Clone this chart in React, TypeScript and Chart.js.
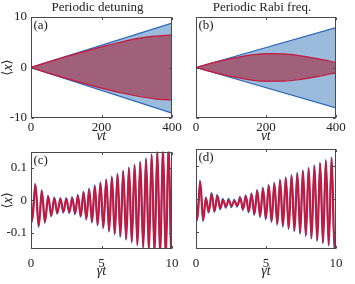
import React, { useEffect, useRef } from 'react';
import { Chart, registerables } from 'chart.js';

Chart.register(...registerables);

// ---------- data ----------
const topT = [0, 50, 100, 150, 200, 250, 300, 350, 400];
const edgeT = [0, 400];
const aBlueUp = [0, 8.8];
const aBlueLow = [0, -9.05];
const aRedUp = [0, 1.1, 2.15, 3.15, 4.1, 4.95, 5.7, 6.2, 6.45];
const aRedLow = [0, -1.1, -2.15, -3.15, -4.1, -4.95, -5.65, -6.2, -6.45];
const bBlueUp = [0, 7.9];
const bBlueLow = [0, -8.0];
const bRedUp = [0, 0.95, 1.75, 2.4, 2.75, 2.7, 2.3, 1.7, 1.0];
const bRedLow = [0, -0.95, -1.75, -2.4, -2.7, -2.7, -2.35, -1.75, -1.05];

const cRedT = [0, 0.09, 0.32, 0.56, 0.78, 1.0, 1.23, 1.45, 1.67, 1.88, 2.1, 2.31, 2.52, 2.73, 2.94, 3.14, 3.34, 3.54, 3.74, 3.94, 4.14, 4.34, 4.54, 4.74, 4.94, 5.14, 5.35, 5.55, 5.75, 5.95, 6.15, 6.35, 6.55, 6.76, 6.96, 7.16, 7.36, 7.56, 7.76, 7.97, 8.17, 8.37, 8.57, 8.77, 8.97, 9.17, 9.37, 9.57, 9.77, 9.97, 10];
const cRedV = [0, -0.062, 0.048, -0.078, 0.028, -0.066, 0.012, -0.046, 0.006, -0.038, 0.004, -0.035, 0.004, -0.036, 0.007, -0.04, 0.014, -0.048, 0.024, -0.056, 0.033, -0.065, 0.043, -0.074, 0.053, -0.083, 0.062, -0.093, 0.071, -0.102, 0.08, -0.11, 0.089, -0.118, 0.099, -0.127, 0.108, -0.136, 0.117, -0.144, 0.127, -0.153, 0.14, -0.162, 0.152, -0.171, 0.163, -0.18, 0.175, -0.19, -0.188];
const cBlueT = [0, 0.07, 0.29, 0.53, 0.75, 0.97, 1.2, 1.42, 1.64, 1.85, 2.07, 2.28, 2.49, 2.7, 2.91, 3.11, 3.31, 3.51, 3.71, 3.91, 4.11, 4.31, 4.51, 4.71, 4.91, 5.11, 5.32, 5.52, 5.72, 5.92, 6.12, 6.32, 6.52, 6.73, 6.93, 7.13, 7.33, 7.53, 7.73, 7.94, 8.14, 8.34, 8.54, 8.74, 8.94, 9.14, 9.34, 9.54, 9.74, 9.94, 10];
const cBlueV = [0, -0.068, 0.052, -0.083, 0.032, -0.07, 0.016, -0.05, 0.01, -0.042, 0.008, -0.039, 0.008, -0.04, 0.011, -0.044, 0.018, -0.052, 0.028, -0.06, 0.037, -0.069, 0.047, -0.078, 0.057, -0.087, 0.066, -0.097, 0.075, -0.106, 0.084, -0.114, 0.093, -0.122, 0.103, -0.131, 0.112, -0.14, 0.121, -0.148, 0.131, -0.157, 0.144, -0.166, 0.156, -0.175, 0.167, -0.184, 0.179, -0.194, -0.19];

const dRedT = [0, 0.1, 0.31, 0.52, 0.72, 0.92, 1.13, 1.33, 1.54, 1.74, 1.94, 2.15, 2.35, 2.55, 2.76, 2.96, 3.17, 3.37, 3.57, 3.78, 3.98, 4.18, 4.39, 4.59, 4.8, 5.0, 5.21, 5.41, 5.61, 5.82, 6.02, 6.22, 6.43, 6.63, 6.84, 7.04, 7.25, 7.45, 7.65, 7.86, 8.06, 8.26, 8.47, 8.67, 8.88, 9.08, 9.29, 9.49, 9.7, 9.9, 10];
const dRedV = [0, -0.061, 0.052, -0.063, 0.002, -0.038, 0.015, -0.036, 0.009, -0.028, -0.003, -0.023, -0.003, -0.021, -0.006, -0.02, 0.003, -0.03, 0.008, -0.037, 0.014, -0.045, 0.024, -0.051, 0.031, -0.058, 0.039, -0.066, 0.046, -0.074, 0.055, -0.08, 0.062, -0.087, 0.069, -0.094, 0.076, -0.101, 0.083, -0.108, 0.091, -0.116, 0.098, -0.123, 0.106, -0.13, 0.114, -0.137, 0.122, -0.148, -0.142];
const dBlueT = [0, 0.08, 0.28, 0.49, 0.69, 0.89, 1.1, 1.3, 1.51, 1.71, 1.91, 2.12, 2.32, 2.52, 2.73, 2.93, 3.14, 3.34, 3.54, 3.75, 3.95, 4.15, 4.36, 4.56, 4.77, 4.97, 5.18, 5.38, 5.58, 5.79, 5.99, 6.19, 6.4, 6.6, 6.81, 7.01, 7.22, 7.42, 7.62, 7.83, 8.03, 8.23, 8.44, 8.64, 8.85, 9.05, 9.26, 9.46, 9.67, 9.87, 10];
const dBlueV = [0, -0.065, 0.056, -0.067, 0.006, -0.042, 0.019, -0.04, 0.013, -0.032, 0.001, -0.027, 0.001, -0.025, -0.002, -0.024, 0.007, -0.034, 0.012, -0.041, 0.018, -0.049, 0.028, -0.055, 0.035, -0.062, 0.043, -0.07, 0.05, -0.078, 0.059, -0.084, 0.066, -0.091, 0.073, -0.098, 0.08, -0.105, 0.087, -0.112, 0.095, -0.12, 0.102, -0.127, 0.11, -0.134, 0.118, -0.141, 0.126, -0.152, -0.146];

const topXTicks = [0, 200, 400];
const topYTicks = [-10, 0, 10];
const botXTicks = [0, 5, 10];
const botYTicks = [-0.1, 0, 0.1];
const titles = ['Periodic detuning', 'Periodic Rabi freq.'];
const letters = ['(a)', '(b)', '(c)', '(d)'];
const xLabel = 'γt';

// ---------- style ----------
const SERIF = '"Liberation Serif", "Times New Roman", "DejaVu Serif", serif';
const BLUE = 'rgb(42,104,182)';
const BLUE_FILL = 'rgb(155,187,221)';
const RED = 'rgb(200,22,60)';
const RED_FILL = 'rgb(160,96,122)';
const FRAME = '#4a4a4a';
const TEXT = '#222';
const TICK = 2.5;

function pts(xs: number[], ys: number[]) {
  return xs.map((x, i) => ({ x, y: ys[i] }));
}

function envelopeSets(bt: number[], bu: number[], bl: number[], rt: number[], ru: number[], rl: number[]) {
  const common = { pointRadius: 0, borderWidth: 1.2 };
  return [
    { ...common, data: pts(bt, bu), borderColor: BLUE, fill: false, order: 2 },
    { ...common, data: pts(bt, bl), borderColor: BLUE, fill: '-1', backgroundColor: BLUE_FILL, order: 2 },
    { ...common, data: pts(rt, ru), borderColor: RED, fill: false, order: 1, cubicInterpolationMode: 'monotone' },
    { ...common, data: pts(rt, rl), borderColor: RED, fill: '-1', backgroundColor: RED_FILL, order: 1, cubicInterpolationMode: 'monotone' },
  ];
}

function waveSets(bt: number[], bv: number[], rt: number[], rv: number[]) {
  const common = { pointRadius: 0, fill: false, cubicInterpolationMode: 'monotone' };
  return [
    { ...common, data: pts(bt, bv), borderColor: BLUE, borderWidth: 1.6, order: 2 },
    { ...common, data: pts(rt, rv), borderColor: RED, borderWidth: 2.0, order: 1 },
  ];
}

type Spec = {
  left: number; top: number; width: number; height: number;
  padTop: number; padRight: number; yWidth: number; xHeight: number;
  xMin: number; xMax: number; yMin: number; yMax: number;
  xTicks: number[]; yTicks: number[]; showY: boolean; xTickPad: number;
  letter: string; title?: string; yLabelX?: number; xLabelY: number;
  datasets: any[];
};

const specs: Spec[] = [
  {
    left: 0, top: 0, width: 192, height: 140, padTop: 17, padRight: 20, yWidth: 31, xHeight: 22,
    xMin: 0, xMax: 400, yMin: -10, yMax: 10, xTicks: topXTicks, yTicks: topYTicks, showY: true, xTickPad: 2,
    letter: letters[0], title: titles[0], yLabelX: 8, xLabelY: 136,
    datasets: envelopeSets(edgeT, aBlueUp, aBlueLow, topT, aRedUp, aRedLow),
  },
  {
    left: 177, top: 0, width: 178, height: 140, padTop: 17, padRight: 19, yWidth: 19, xHeight: 22,
    xMin: 0, xMax: 400, yMin: -10, yMax: 10, xTicks: topXTicks, yTicks: topYTicks, showY: false, xTickPad: 2,
    letter: letters[1], title: titles[1], xLabelY: 136,
    datasets: envelopeSets(edgeT, bBlueUp, bBlueLow, topT, bRedUp, bRedLow),
  },
  {
    left: 0, top: 140, width: 192, height: 144, padTop: 9, padRight: 20, yWidth: 31, xHeight: 35,
    xMin: 0, xMax: 10, yMin: -0.15, yMax: 0.15, xTicks: botXTicks, yTicks: botYTicks, showY: true, xTickPad: 7,
    letter: letters[2], yLabelX: 8, xLabelY: 131,
    datasets: waveSets(cBlueT, cBlueV, cRedT, cRedV),
  },
  {
    left: 177, top: 140, width: 178, height: 144, padTop: 9, padRight: 19, yWidth: 19, xHeight: 35,
    xMin: 0, xMax: 10, yMin: -0.15, yMax: 0.15, xTicks: botXTicks, yTicks: botYTicks, showY: false, xTickPad: 7,
    letter: letters[3], xLabelY: 131,
    datasets: waveSets(dBlueT, dBlueV, dRedT, dRedV),
  },
];

function decor(spec: Spec) {
  return {
    id: 'decor',
    afterDraw(chart: any) {
      const { ctx, chartArea: a, scales } = chart;
      const xs = scales.x;
      const ys = scales.y;
      ctx.save();
      ctx.strokeStyle = FRAME;
      ctx.lineWidth = 1;
      const L = Math.round(a.left) + 0.5;
      const R = Math.round(a.right) - 0.5;
      const T = Math.round(a.top) + 0.5;
      const B = Math.round(a.bottom) - 0.5;
      ctx.strokeRect(L, T, R - L, B - T);
      ctx.beginPath();
      spec.xTicks.forEach((v) => {
        const p = Math.round(xs.getPixelForValue(v)) + 0.5;
        ctx.moveTo(p, B); ctx.lineTo(p, B - TICK);
        ctx.moveTo(p, T); ctx.lineTo(p, T + TICK);
      });
      spec.yTicks.forEach((v) => {
        const p = Math.round(ys.getPixelForValue(v)) + 0.5;
        ctx.moveTo(L, p); ctx.lineTo(L + TICK, p);
        ctx.moveTo(R, p); ctx.lineTo(R - TICK, p);
      });
      ctx.stroke();

      ctx.fillStyle = TEXT;
      ctx.font = `13px ${SERIF}`;
      ctx.textAlign = 'left';
      ctx.textBaseline = 'middle';
      ctx.fillText(spec.letter, a.left + 2.5, a.top + 8.5);

      const cx = (a.left + a.right) / 2;
      if (spec.title) {
        ctx.textAlign = 'center';
        ctx.font = `13px ${SERIF}`;
        ctx.fillText(spec.title, cx - 4, 8);
      }
      ctx.textAlign = 'center';
      ctx.font = `italic 14px ${SERIF}`;
      ctx.fillText(xLabel, cx, spec.xLabelY);

      if (spec.yLabelX !== undefined) {
        ctx.translate(spec.yLabelX, (a.top + a.bottom) / 2);
        ctx.rotate(-Math.PI / 2);
        ctx.textAlign = 'left';
        ctx.font = `13px ${SERIF}`;
        const w1 = ctx.measureText('⟨').width;
        const w3 = ctx.measureText('⟩').width;
        ctx.font = `italic 14px ${SERIF}`;
        const w2 = ctx.measureText('x').width;
        const x0 = -(w1 + w2 + w3) / 2;
        ctx.font = `13px ${SERIF}`;
        ctx.fillText('⟨', x0, 0);
        ctx.font = `italic 14px ${SERIF}`;
        ctx.fillText('x', x0 + w1, 0);
        ctx.font = `13px ${SERIF}`;
        ctx.fillText('⟩', x0 + w1 + w2, 0);
      }
      ctx.restore();
    },
  };
}

function Panel({ spec }: { spec: Spec }) {
  const ref = useRef<HTMLCanvasElement | null>(null);
  useEffect(() => {
    if (!ref.current) return;
    const font = { family: SERIF, size: 13 };
    const chart = new Chart(ref.current, {
      type: 'line',
      data: { datasets: spec.datasets },
      options: {
        animation: false,
        responsive: false,
        maintainAspectRatio: false,
        events: [],
        layout: { autoPadding: false, padding: { top: spec.padTop, right: spec.padRight, left: 0, bottom: 0 } },
        plugins: { legend: { display: false }, tooltip: { enabled: false }, title: { display: false } },
        scales: {
          x: {
            type: 'linear', min: spec.xMin, max: spec.xMax,
            grid: { display: false, drawTicks: false }, border: { display: false },
            ticks: { autoSkip: false, maxRotation: 0, minRotation: 0, padding: spec.xTickPad, font, color: TEXT, callback: (v: any) => String(v) },
            afterBuildTicks: (s: any) => { s.ticks = spec.xTicks.map((v) => ({ value: v })); },
            afterFit: (s: any) => { s.height = spec.xHeight; },
          },
          y: {
            type: 'linear', min: spec.yMin, max: spec.yMax,
            grid: { display: false, drawTicks: false }, border: { display: false },
            ticks: { display: spec.showY, autoSkip: false, padding: 4, font, color: TEXT, callback: (v: any) => String(v) },
            afterBuildTicks: (s: any) => { s.ticks = spec.yTicks.map((v) => ({ value: v })); },
            afterFit: (s: any) => { s.width = spec.yWidth; },
          },
        },
      } as any,
      plugins: [decor(spec)],
    });
    return () => chart.destroy();
  }, [spec]);
  return (
    <canvas
      ref={ref}
      width={spec.width}
      height={spec.height}
      style={{ position: 'absolute', left: spec.left, top: spec.top }}
    />
  );
}

export default function App() {
  return (
    <div style={{ position: 'absolute', left: 0, top: 0, width: 355, height: 284, background: '#fff', overflow: 'hidden' }}>
      {specs.map((s, i) => (
        <Panel key={i} spec={s} />
      ))}
    </div>
  );
}
